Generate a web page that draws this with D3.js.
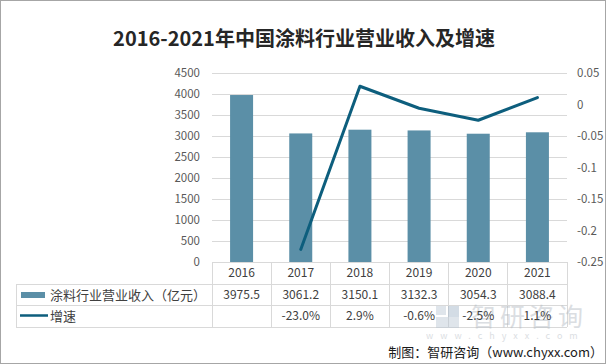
<!DOCTYPE html>
<html>
<head>
<meta charset="utf-8">
<script src="https://cdn.jsdelivr.net/npm/d3@7"></script>
<style>
body { margin: 0; background: #fff; }
svg { display: block; }
</style>
</head>
<body>
<svg id="chart" width="606" height="364"></svg>
<script>
var years = ["2016", "2017", "2018", "2019", "2020", "2021"];
var revenue = [3975.5, 3061.2, 3150.1, 3132.3, 3054.3, 3088.4];
var growth = [null, -0.230, 0.029, -0.006, -0.025, 0.011];
var growthLabels = ["", "-23.0%", "2.9%", "-0.6%", "-2.5%", "1.1%"];
var leftTicks = [0, 500, 1000, 1500, 2000, 2500, 3000, 3500, 4000, 4500];
var rightTicks = [-0.25, -0.2, -0.15, -0.1, -0.05, 0, 0.05];
var seriesNames = ["涂料行业营业收入（亿元）", "增速"];

var barcolor = "#5b8fa7";
var linecolor = "#0d5e7d";
var gridcolor = "#d9d9d9";
var textcolor = "#595959";
var font = "'Noto Sans CJK SC', 'Noto Sans', sans-serif";

var svg = d3.select("#chart");

// outer frame
svg.append("rect")
   .attr("x", 0.5).attr("y", 0.5)
   .attr("width", 605).attr("height", 363)
   .attr("fill", "#fff")
   .attr("stroke", "#a6a6a6");

svg.append("text")
   .attr("x", 304)
   .attr("y", 46)
   .attr("text-anchor", "middle")
   .attr("font-size", "20px")
   .attr("font-weight", "bold")
   .attr("font-family", font)
   .attr("fill", "#262626")
   .text("2016-2021年中国涂料行业营业收入及增速");

var plotLeft = 212, plotRight = 567, plotTop = 73, plotBottom = 262;
var row1 = 284, row2 = 305.5, row3 = 327, tableLeft = 16;

var xScale = d3.scaleBand().domain(years).range([plotLeft, plotRight]).padding(0);
var yLeft = d3.scaleLinear().domain([0, 4500]).range([plotBottom, plotTop]);
var yRight = d3.scaleLinear().domain([-0.25, 0.05]).range([plotBottom, plotTop]);
var barW = 23;

// gridlines
svg.append("g")
   .selectAll("line")
   .data(leftTicks.slice(1))
   .enter().append("line")
   .attr("x1", plotLeft).attr("x2", plotRight)
   .attr("y1", function(d) { return Math.round(yLeft(d)) + 0.5; })
   .attr("y2", function(d) { return Math.round(yLeft(d)) + 0.5; })
   .attr("stroke", gridcolor);

// left axis labels
var axL = svg.append("g")
   .attr("transform", "translate(" + (plotLeft - 12) + ",0)")
   .call(d3.axisLeft(yLeft).tickValues(leftTicks).tickSize(0).tickPadding(0)
         .tickFormat(d3.format("d")));
axL.select(".domain").remove();
axL.selectAll("text")
   .attr("font-size", "11.5px")
   .attr("font-family", font)
   .attr("fill", textcolor);

// right axis labels
var axR = svg.append("g")
   .attr("transform", "translate(" + (plotRight + 10) + ",0)")
   .call(d3.axisRight(yRight).tickValues(rightTicks).tickSize(0).tickPadding(0)
         .tickFormat(function(d) { return String(+d.toFixed(2)); }));
axR.select(".domain").remove();
axR.selectAll("text")
   .attr("font-size", "11.5px")
   .attr("font-family", font)
   .attr("fill", textcolor);

// bars
svg.append("g")
   .selectAll(".bar")
   .data(years)
   .enter().append("rect")
   .attr("class", "bar")
   .attr("x", function(d) { return xScale(d) + (xScale.bandwidth() - barW) / 2; })
   .attr("y", function(d, i) { return yLeft(revenue[i]); })
   .attr("width", barW)
   .attr("height", function(d, i) { return plotBottom - yLeft(revenue[i]); })
   .attr("fill", barcolor);

// growth line
var lineData = years.map(function(d, i) { return { y: d, v: growth[i] }; })
                    .filter(function(d) { return d.v !== null; });
svg.append("path")
   .datum(lineData)
   .attr("fill", "none")
   .attr("stroke", linecolor)
   .attr("stroke-width", 3)
   .attr("stroke-linecap", "round")
   .attr("stroke-linejoin", "round")
   .attr("d", d3.line()
      .x(function(d) { return xScale(d.y) + xScale.bandwidth() / 2; })
      .y(function(d) { return yRight(d.v); }));

// axis line / table lines
var tg = svg.append("g").attr("stroke", gridcolor).attr("shape-rendering", "crispEdges");
tg.append("line").attr("x1", plotLeft).attr("x2", plotRight).attr("y1", plotBottom).attr("y2", plotBottom);
[row1, row2, row3].forEach(function(y) {
	tg.append("line").attr("x1", tableLeft).attr("x2", plotRight).attr("y1", y).attr("y2", y);
});
tg.append("line").attr("x1", tableLeft).attr("x2", tableLeft).attr("y1", row1).attr("y2", row3);
years.forEach(function(d) {
	tg.append("line").attr("x1", xScale(d)).attr("x2", xScale(d)).attr("y1", plotBottom).attr("y2", row3);
});
tg.append("line").attr("x1", plotRight).attr("x2", plotRight).attr("y1", plotBottom).attr("y2", row3);

// watermark (faint, sits behind the table text)
var wm = svg.append("g").attr("opacity", 0.45);
wm.append("rect").attr("x", 436).attr("y", 306).attr("width", 10).attr("height", 9).attr("fill", "#b9c6d3");
wm.append("rect").attr("x", 448).attr("y", 306).attr("width", 11).attr("height", 13).attr("fill", "#9fb3c6");
wm.append("rect").attr("x", 436).attr("y", 317).attr("width", 23).attr("height", 11).attr("fill", "#b9c6d3");
wm.append("text")
   .attr("x", 471).attr("y", 326)
   .attr("font-size", "25px")
   .attr("letter-spacing", "4px")
   .attr("font-family", font)
   .attr("fill", "#b0b8c0")
   .text("智研咨询");
wm.append("text")
   .attr("x", 426).attr("y", 339)
   .attr("font-size", "9px")
   .attr("letter-spacing", "7px")
   .attr("font-family", font)
   .attr("fill", "#b0b8c0")
   .text("www.chyxx.com");

// table text
var cells = svg.append("g")
   .attr("font-family", font)
   .attr("font-size", "12px")
   .attr("fill", "#404040")
   .attr("text-anchor", "middle");
cells.selectAll(".yr")
   .data(years)
   .enter().append("text")
   .attr("x", function(d) { return xScale(d) + xScale.bandwidth() / 2; })
   .attr("y", (plotBottom + row1) / 2 + 4)
   .text(function(d) { return d; });
cells.selectAll(".rev")
   .data(revenue)
   .enter().append("text")
   .attr("x", function(d, i) { return xScale(years[i]) + xScale.bandwidth() / 2; })
   .attr("y", (row1 + row2) / 2 + 4)
   .text(function(d) { return d.toFixed(1); });
cells.selectAll(".gr")
   .data(growthLabels)
   .enter().append("text")
   .attr("x", function(d, i) { return xScale(years[i]) + xScale.bandwidth() / 2; })
   .attr("y", (row2 + row3) / 2 + 4)
   .text(function(d) { return d; });

// legend keys inside the table
svg.append("rect")
   .attr("x", 21).attr("y", 292)
   .attr("width", 24).attr("height", 6)
   .attr("fill", barcolor);
svg.append("line")
   .attr("x1", 20).attr("x2", 48)
   .attr("y1", 315.5).attr("y2", 315.5)
   .attr("stroke", linecolor)
   .attr("stroke-width", 2.5);
svg.append("text")
   .attr("x", 50).attr("y", (row1 + row2) / 2 + 5)
   .attr("font-size", "13px")
   .attr("font-family", font)
   .attr("fill", "#404040")
   .text(seriesNames[0]);
svg.append("text")
   .attr("x", 50).attr("y", (row2 + row3) / 2 + 5)
   .attr("font-size", "13px")
   .attr("font-family", font)
   .attr("fill", "#404040")
   .text(seriesNames[1]);

// source
svg.append("text")
   .attr("x", 603).attr("y", 357)
   .attr("text-anchor", "end")
   .attr("font-size", "13px")
   .attr("font-family", font)
   .attr("fill", "#1a1a1a")
   .text("制图：智研咨询（www.chyxx.com）");
</script>
</body>
</html>
